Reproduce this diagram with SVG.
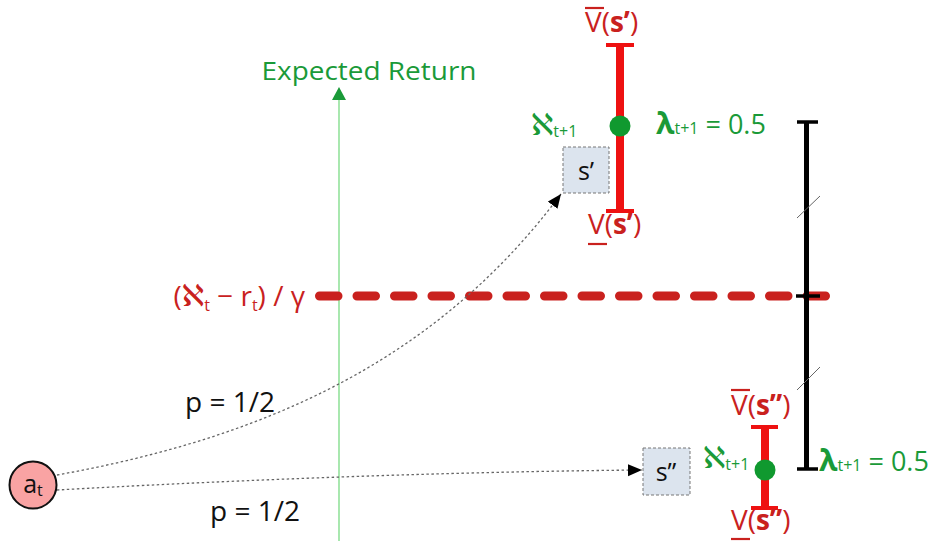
<svg xmlns="http://www.w3.org/2000/svg" width="930" height="541" viewBox="0 0 930 541">
<defs>
<style>
text{font-family:"Open Sans","DejaVu Sans",sans-serif;}
.red{fill:#c9211e;font-size:28px;}
.grn{fill:#1a9a38;}
.blk{fill:#111;font-size:28px;}
.sub{font-size:16px;}
.rbar{stroke:#ee1111;stroke-width:8;}
.rcap{stroke:#ee1111;stroke-width:4;}
.kbar{stroke:#000;stroke-width:5;}
.kcap{stroke:#000;stroke-width:3.5;}
.box{fill:#dce4ee;stroke:#777;stroke-width:1;stroke-dasharray:3 2;}
.conn{fill:none;stroke:#666;stroke-width:1.3;stroke-dasharray:2.5 2.5;}
.dot{fill:#10992f;}
.alef{font-size:30px;}
</style>
<marker id="ah" markerUnits="userSpaceOnUse" markerWidth="16" markerHeight="14" refX="14" refY="6" orient="auto">
<path d="M0,0 L14,6 L0,12 Z" fill="#000"/>
</marker>
</defs>

<!-- axis -->
<g id="axis">
<line x1="339" y1="99" x2="339" y2="541" stroke="#6fd87a" stroke-width="1.2"/>
<path d="M332,100 L339,87 L346,100 Z" fill="#1a9a38"/>
<text x="369" y="80" class="grn" font-size="26" text-anchor="middle" textLength="215" lengthAdjust="spacingAndGlyphs">Expected Return</text>
</g>

<!-- threshold dashed line -->
<g id="threshold">
<line x1="319.5" y1="296" x2="826" y2="296" stroke="#c9211e" stroke-width="9" stroke-linecap="round" stroke-dasharray="18.5 19"/>
<text x="305" y="306" class="red" text-anchor="end">(<tspan class="alef">ℵ</tspan><tspan class="sub" dy="5">t</tspan><tspan dy="-5"> − r</tspan><tspan class="sub" dy="5">t</tspan><tspan dy="-5">) / γ</tspan></text>
</g>

<!-- black range bar -->
<g id="range">
<line x1="806.5" y1="122" x2="806.5" y2="469" class="kbar"/>
<line x1="797" y1="122" x2="818" y2="122" class="kcap"/>
<line x1="797" y1="469" x2="818" y2="469" class="kcap"/>
<line x1="796" y1="296" x2="820" y2="296" class="kcap"/>
<line x1="797" y1="218" x2="820" y2="196" stroke="#666" stroke-width="1"/>
<line x1="797" y1="390" x2="820" y2="367" stroke="#666" stroke-width="1"/>
</g>

<!-- connectors -->
<g id="connectors">
<path d="M57,475 C250,440 430,370 561,194" class="conn" marker-end="url(#ah)"/>
<path d="M57,490 C200,482 420,472 642,470" class="conn" marker-end="url(#ah)"/>
<text x="185" y="412" class="blk">p = 1/2</text>
<text x="210" y="521" class="blk">p = 1/2</text>
</g>

<!-- a_t node -->
<g id="a_t">
<circle cx="33" cy="485" r="23.5" fill="#f9a3a3" stroke="#111" stroke-width="2"/>
<text x="33" y="493" font-size="25" fill="#111" text-anchor="middle">a<tspan font-size="16" dy="3">t</tspan></text>
</g>

<!-- s' node -->
<g id="s1">
<rect x="563" y="147" width="46" height="46" class="box"/>
<text x="586" y="180" font-size="25" fill="#111" text-anchor="middle">s’</text>
<line x1="620" y1="45" x2="620" y2="211" class="rbar"/>
<line x1="606" y1="45" x2="634" y2="45" class="rcap"/>
<line x1="606" y1="211" x2="634" y2="211" class="rcap"/>
<circle cx="620" cy="126" r="10.5" class="dot"/>
<text x="585" y="32" class="red">V(<tspan font-weight="bold">s’</tspan>)</text>
<line x1="585" y1="8" x2="604" y2="8" stroke="#c9211e" stroke-width="2.2"/>
<text x="588" y="234" class="red">V(<tspan font-weight="bold">s’</tspan>)</text>
<line x1="588" y1="244" x2="607" y2="244" stroke="#c9211e" stroke-width="2.2"/>
<text x="531" y="135" class="grn alef">ℵ<tspan class="sub" dy="2">t+1</tspan></text>
<text x="656" y="134" class="grn" font-size="27"><tspan font-weight="bold" font-size="30">λ</tspan><tspan class="sub">t+1</tspan><tspan> = 0.5</tspan></text>
</g>

<!-- s'' node -->
<g id="s2">
<rect x="643" y="448" width="47" height="47" class="box"/>
<text x="666" y="481" font-size="25" fill="#111" text-anchor="middle">s”</text>
<line x1="765" y1="427" x2="765" y2="508" class="rbar"/>
<line x1="751" y1="427" x2="778" y2="427" class="rcap"/>
<line x1="751" y1="508" x2="778" y2="508" class="rcap"/>
<circle cx="765" cy="470" r="10.5" class="dot"/>
<text x="731" y="415" class="red">V(<tspan font-weight="bold">s”</tspan>)</text>
<line x1="731" y1="390" x2="750" y2="390" stroke="#c9211e" stroke-width="2.2"/>
<text x="731" y="530" class="red">V(<tspan font-weight="bold">s”</tspan>)</text>
<line x1="731" y1="539" x2="750" y2="539" stroke="#c9211e" stroke-width="2.2"/>
<text x="703" y="468" class="grn alef">ℵ<tspan class="sub" dy="2">t+1</tspan></text>
<text x="819" y="471" class="grn" font-size="27"><tspan font-weight="bold" font-size="30">λ</tspan><tspan class="sub">t+1</tspan><tspan> = 0.5</tspan></text>
</g>
</svg>
